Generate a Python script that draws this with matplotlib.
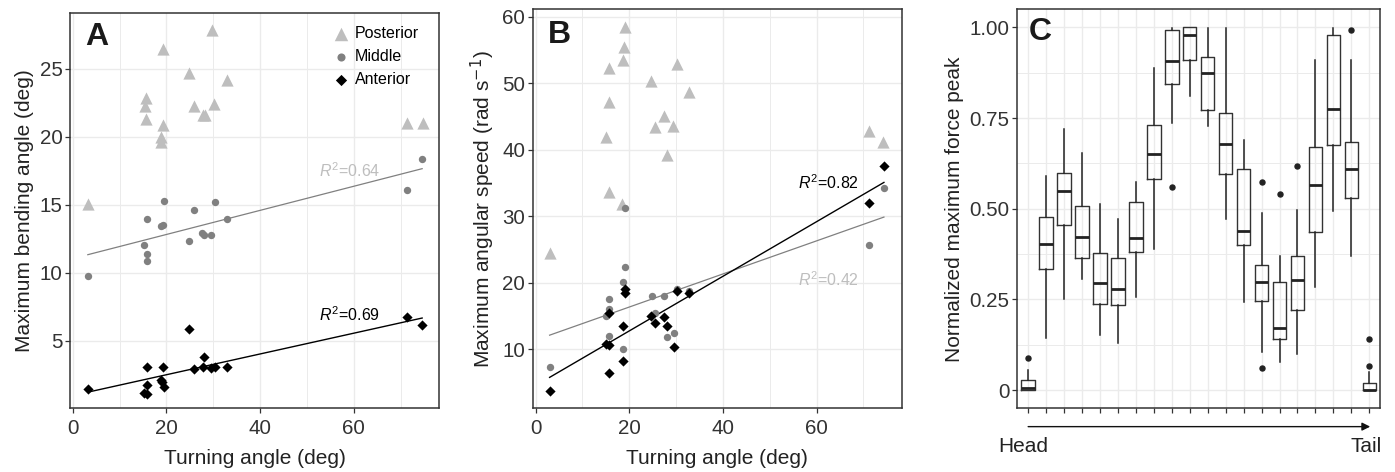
import matplotlib.pyplot as plt
import numpy as np

plt.rcParams['font.family'] = ['Liberation Sans', 'DejaVu Sans']
plt.rcParams['mathtext.fontset'] = 'custom'
plt.rcParams['mathtext.rm'] = 'Liberation Sans'
plt.rcParams['mathtext.it'] = 'Liberation Sans:italic'

# Panel A: ángulo máximo de flexión frente al ángulo de giro
a_post_x = [3.2, 15.7, 15.5, 15.7, 19.2, 18.9, 18.9, 19.3, 24.9, 25.8, 27.7, 28.2, 29.8, 30.2, 33.0, 71.4, 74.7]
a_post_y = [15.07, 22.9, 22.3, 21.3, 26.5, 20.0, 19.6, 20.9, 24.7, 22.3, 21.6, 21.6, 27.9, 22.4, 24.2, 21.0, 21.0]
a_mid_x = [3.2, 15.2, 15.8, 15.8, 15.9, 18.8, 19.3, 19.4, 24.9, 25.8, 27.6, 28.0, 29.6, 30.3, 33.0, 71.4, 74.6]
a_mid_y = [9.77, 12.05, 11.4, 10.9, 13.94, 13.45, 13.5, 15.27, 12.35, 14.63, 12.9, 12.8, 12.8, 15.2, 13.92, 16.1, 18.34]
a_ant_x = [3.2, 15.2, 15.8, 15.8, 15.8, 18.8, 19.1, 19.5, 19.3, 24.9, 25.8, 27.7, 28.1, 29.6, 30.4, 33.0, 71.4, 74.6]
a_ant_y = [1.44, 1.12, 1.07, 1.73, 3.08, 2.1, 1.93, 1.6, 3.03, 5.84, 2.89, 3.03, 3.82, 2.98, 3.03, 3.08, 6.72, 6.13]

# Panel B: velocidad angular máxima frente al ángulo de giro
b_post_x = [3.0, 15.0, 15.7, 15.7, 15.7, 18.5, 18.7, 18.9, 19.2, 24.7, 25.6, 27.5, 28.0, 29.4, 30.2, 32.8, 71.3, 74.3]
b_post_y = [24.4, 41.9, 47.2, 52.3, 33.6, 31.8, 53.5, 55.4, 58.5, 50.3, 43.4, 45.1, 39.2, 43.5, 52.8, 48.7, 42.8, 41.1]
b_mid_x = [3.0, 15.0, 15.6, 15.6, 15.6, 18.6, 18.6, 19.0, 19.2, 24.8, 25.6, 27.5, 28.0, 29.5, 30.2, 32.8, 71.3, 74.4]
b_mid_y = [7.24, 14.97, 17.47, 15.97, 11.96, 10.0, 20.13, 22.4, 31.26, 18.02, 15.4, 18.02, 11.86, 12.36, 18.98, 18.78, 25.6, 34.3]
b_ant_x = [3.0, 15.0, 15.6, 15.6, 15.7, 18.6, 18.6, 19.0, 19.2, 24.7, 25.6, 27.5, 28.0, 29.5, 30.2, 32.8, 71.3, 74.4]
b_ant_y = [3.73, 10.75, 10.6, 15.4, 6.34, 13.46, 8.24, 18.48, 19.03, 14.97, 13.86, 14.77, 13.46, 10.35, 18.73, 18.48, 32.0, 37.5]

r2_a = {'mid': 0.64, 'ant': 0.69}
r2_b = {'mid': 0.42, 'ant': 0.82}

# Panel C: resumen de cajas por segmento (cabeza -> cola)
c_whislo = [0.0, 0.144, 0.252, 0.307, 0.153, 0.129, 0.257, 0.388, 0.737, 0.811,
            0.728, 0.473, 0.244, 0.106, 0.078, 0.101, 0.283, 0.494, 0.369, 0.0]
c_q1 = [0.0, 0.333, 0.455, 0.365, 0.237, 0.235, 0.380, 0.581, 0.843, 0.910,
        0.772, 0.596, 0.401, 0.245, 0.142, 0.221, 0.435, 0.677, 0.530, 0.0]
c_med = [0.006, 0.403, 0.550, 0.422, 0.296, 0.278, 0.420, 0.652, 0.908, 0.978,
         0.875, 0.678, 0.4375, 0.299, 0.172, 0.305, 0.566, 0.776, 0.610, 0.0]
c_q3 = [0.029, 0.476, 0.599, 0.509, 0.377, 0.363, 0.519, 0.730, 0.994, 1.0,
        0.919, 0.763, 0.609, 0.345, 0.297, 0.371, 0.669, 0.978, 0.683, 0.020]
c_whishi = [0.055, 0.591, 0.721, 0.654, 0.513, 0.473, 0.574, 0.887, 0.998, 1.0,
            0.998, 0.998, 0.689, 0.489, 0.371, 0.496, 0.909, 0.998, 0.909, 0.05]
c_outliers = [[0.089], [], [], [], [], [], [], [], [0.559], [],
              [], [], [], [0.574, 0.062], [0.542], [0.619], [], [], [0.994], [0.067, 0.142]]

col_post = '#BEBEBE'
col_mid = '#808080'
col_ant = 'black'
col_eje = '#333333'
col_grid = '#EBEBEB'

tam_ticks = 14.8
tam_titulo = 15
tam_letra = 23

fig = plt.figure(figsize=(13.95, 4.72), dpi=100)
ax_a = fig.add_axes([0.0502, 0.135, 0.2645, 0.8368])
ax_b = fig.add_axes([0.3819, 0.135, 0.2645, 0.8453])
ax_c = fig.add_axes([0.7293, 0.135, 0.2600, 0.8453])


def estilo_ejes(ax):
    for s in ax.spines.values():
        s.set_color(col_eje)
        s.set_linewidth(1.1)
    ax.tick_params(which='major', direction='out', length=3.5, width=0.9, color=col_eje,
                   labelsize=tam_ticks, labelcolor='#333333', pad=2)
    ax.tick_params(axis='x', which='major', pad=4)
    ax.tick_params(which='minor', length=0)
    ax.set_axisbelow(True)


def panel_dispersion(ax, post, mid, ant, r2, xtexto, ytexto_mid, ytexto_ant):
    ax.scatter(post[0], post[1], marker='^', s=8.8 ** 2, color=col_post, lw=0, label='Posterior', zorder=3)
    ax.scatter(mid[0], mid[1], marker='o', s=5.3 ** 2, color=col_mid, lw=0, label='Middle', zorder=3)
    ax.scatter(ant[0], ant[1], marker='D', s=5.2 ** 2, color=col_ant, lw=0, label='Anterior', zorder=4)

    # Rectas de regresión lineal (middle y anterior)
    for (x, y), color, lw in [(mid, col_mid, 0.9), (ant, col_ant, 1.0)]:
        x = np.array(x)
        pendiente, intercepto = np.polyfit(x, y, 1)
        xs = np.array([x.min(), x.max()])
        ax.plot(xs, intercepto + pendiente * xs, color=color, lw=lw, zorder=2)

    ax.text(xtexto, ytexto_mid, rf'$R^{{2}}$=' + f"{r2['mid']:.2f}", color=col_post, fontsize=11.5,
            ha='left', va='center')
    ax.text(xtexto, ytexto_ant, rf'$R^{{2}}$=' + f"{r2['ant']:.2f}", color='black', fontsize=11.5,
            ha='left', va='center')

    ax.set_xlim(-0.6, 78.2)
    ax.set_xticks([0, 20, 40, 60])
    ax.set_xticks([10, 30, 50, 70], minor=True)
    ax.grid(which='major', color=col_grid, lw=1.0)
    ax.grid(which='minor', axis='x', color=col_grid, lw=0.7)
    ax.set_xlabel('Turning angle (deg)', fontsize=tam_titulo, color='#222222', labelpad=8)
    estilo_ejes(ax)


panel_dispersion(ax_a, (a_post_x, a_post_y), (a_mid_x, a_mid_y), (a_ant_x, a_ant_y), r2_a, 52.5, 17.5, 6.95)
ax_a.set_ylim(0.02, 29.1)
ax_a.set_yticks([5, 10, 15, 20, 25])
ax_a.set_ylabel('Maximum bending angle (deg)', fontsize=tam_titulo, color='#222222', labelpad=4)
ax_a.text(0.041, 0.92, 'A', transform=ax_a.transAxes, fontsize=tam_letra, fontweight='bold', color='#1a1a1a',
          va='baseline')
ax_a.legend(loc='upper right', bbox_to_anchor=(0.975, 0.995), frameon=False, fontsize=11.5,
            handletextpad=0.05, labelspacing=0.5, borderaxespad=0.3, handlelength=1.6,
            markerscale=1.1)

panel_dispersion(ax_b, (b_post_x, b_post_y), (b_mid_x, b_mid_y), (b_ant_x, b_ant_y), r2_b, 56.1, 20.5, 35.0)
ax_b.set_ylim(1.1, 61.1)
ax_b.set_yticks([10, 20, 30, 40, 50, 60])
ax_b.set_ylabel(r'Maximum angular speed (rad s$^{\mathsf{-1}}$)', fontsize=tam_titulo, color='#222222',
                labelpad=4)
ax_b.text(0.042, 0.916, 'B', transform=ax_b.transAxes, fontsize=tam_letra, fontweight='bold', color='#1a1a1a',
          va='baseline')

# Panel C: diagramas de caja
estadisticas = []
for i in range(len(c_med)):
    estadisticas.append({
        'med': c_med[i], 'q1': c_q1[i], 'q3': c_q3[i],
        'whislo': c_whislo[i], 'whishi': c_whishi[i], 'fliers': c_outliers[i]
    })
posiciones = np.arange(1, len(c_med) + 1)
ax_c.bxp(estadisticas, positions=posiciones, widths=0.75, showcaps=False,
         boxprops=dict(color=col_eje, lw=1.0),
         whiskerprops=dict(color='#222222', lw=1.1),
         medianprops=dict(color='#222222', lw=2.0),
         flierprops=dict(marker='o', markerfacecolor='#222222', markeredgecolor='#222222',
                         markersize=3.6, linestyle='none'))
ax_c.set_xlim(0.4, 20.6)
ax_c.set_ylim(-0.05, 1.05)
ax_c.set_xticks(posiciones)
ax_c.set_xticklabels([''] * len(posiciones))
ax_c.set_yticks([0, 0.25, 0.5, 0.75, 1.0])
ax_c.set_yticklabels(['0', '0.25', '0.50', '0.75', '1.00'])
ax_c.set_yticks(np.arange(0.125, 1.0, 0.25), minor=True)
ax_c.grid(which='major', color=col_grid, lw=1.0)
ax_c.grid(which='minor', axis='y', color=col_grid, lw=0.7)
ax_c.set_ylabel('Normalized maximum force peak', fontsize=tam_titulo, color='#222222', labelpad=4)
estilo_ejes(ax_c)
ax_c.text(0.032, 0.923, 'C', transform=ax_c.transAxes, fontsize=tam_letra, fontweight='bold', color='#1a1a1a',
          va='baseline')

# Flecha de cabeza a cola bajo el eje
ax_c.annotate('', xy=(posiciones[-1] + 0.05, -0.046), xytext=(posiciones[0], -0.046),
              xycoords=('data', 'axes fraction'), textcoords=('data', 'axes fraction'),
              arrowprops=dict(arrowstyle='-|>', color='#111111', lw=1.0, mutation_scale=12,
                              shrinkA=0, shrinkB=0),
              annotation_clip=False)
ax_c.text(0.75, -0.095, 'Head', transform=ax_c.get_xaxis_transform(), fontsize=tam_titulo, color='#222222',
          ha='center', va='center')
ax_c.text(19.85, -0.095, 'Tail', transform=ax_c.get_xaxis_transform(), fontsize=tam_titulo, color='#222222',
          ha='center', va='center')

plt.savefig('out.png', dpi=100)
